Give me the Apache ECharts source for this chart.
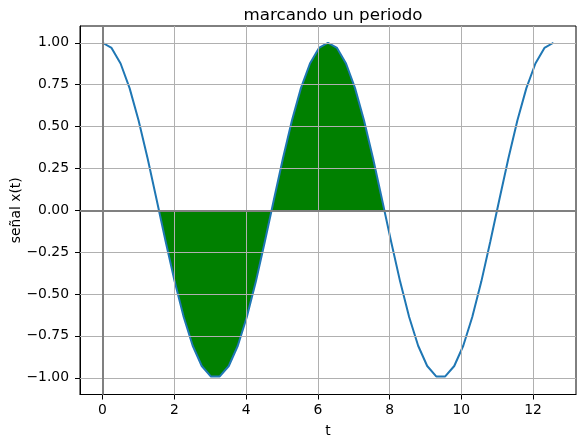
<!DOCTYPE html>
<html>
<head>
<meta charset="utf-8">
<script src="https://cdn.jsdelivr.net/npm/echarts@6/dist/echarts.min.js"></script>
<style>
  html, body { margin: 0; padding: 0; background: #fff; }
  #chart { width: 581px; height: 439px; }
</style>
</head>
<body>
<div id="chart"></div>
<script>
// samples of t (0 .. 4pi, 51 points)
const tValues = [
  0.000, 0.251, 0.503, 0.754, 1.005, 1.257, 1.508, 1.759, 2.011, 2.262,
  2.513, 2.765, 3.016, 3.267, 3.519, 3.770, 4.021, 4.273, 4.524, 4.775,
  5.027, 5.278, 5.529, 5.781, 6.032, 6.283, 6.535, 6.786, 7.037, 7.288,
  7.540, 7.791, 8.042, 8.294, 8.545, 8.796, 9.048, 9.299, 9.550, 9.802,
  10.053, 10.304, 10.556, 10.807, 11.058, 11.310, 11.561, 11.812, 12.064, 12.315,
  12.566
];
const xValues = [
  1.000, 0.969, 0.876, 0.729, 0.536, 0.309, 0.063, -0.187, -0.426, -0.637,
  -0.809, -0.930, -0.992, -0.992, -0.930, -0.809, -0.637, -0.426, -0.187, 0.063,
  0.309, 0.536, 0.729, 0.876, 0.969, 1.000, 0.969, 0.876, 0.729, 0.536,
  0.309, 0.063, -0.187, -0.426, -0.637, -0.809, -0.930, -0.992, -0.992, -0.930,
  -0.809, -0.637, -0.426, -0.187, 0.063, 0.309, 0.536, 0.729, 0.876, 0.969,
  1.000
];
// shaded period: from pi/2 to 5pi/2
const periodStart = 1.571;
const periodEnd = 7.854;

const xTicks = [0, 2, 4, 6, 8, 10, 12];
const yTicks = [-1.0, -0.75, -0.5, -0.25, 0, 0.25, 0.5, 0.75, 1.0];

const lineData = tValues.map((t, i) => [t, xValues[i]]);
const fillData = [[periodStart, 0]]
  .concat(lineData.filter(p => p[0] > periodStart && p[0] < periodEnd))
  .concat([[periodEnd, 0]]);

const chart = echarts.init(document.getElementById('chart'));
const font = 'DejaVu Sans';

const option = {
  animation: false,
  title: {
    text: 'marcando un periodo',
    left: 328,
    textAlign: 'center',
    top: 2,
    textStyle: { fontFamily: font, fontSize: 16.7, fontWeight: 'normal', color: '#000' }
  },
  grid: {
    left: 80, top: 26, width: 496, height: 368.5,
    outerBoundsMode: 'none',
    containLabel: false,
    show: true, borderColor: '#000', borderWidth: 1
  },
  xAxis: {
    type: 'value',
    min: -0.628,
    max: 13.195,
    name: 't',
    nameLocation: 'middle',
    nameGap: 30,
    nameMoveOverlap: false,
    nameTextStyle: { fontFamily: font, fontSize: 13.9, color: '#000' },
    axisLine: { onZero: false, lineStyle: { color: '#000', width: 1 } },
    axisTick: { show: true, length: 5, customValues: xTicks, lineStyle: { color: '#000' } },
    axisLabel: { customValues: xTicks, fontFamily: font, fontSize: 13.9, color: '#000', margin: 9 },
    splitLine: { show: false }
  },
  yAxis: {
    type: 'value',
    min: -1.1,
    max: 1.1,
    name: 'señal x(t)',
    nameLocation: 'middle',
    nameGap: 57,
    nameMoveOverlap: false,
    nameRotate: 90,
    nameTextStyle: { fontFamily: font, fontSize: 13.9, color: '#000' },
    axisLine: { show: true, onZero: false, lineStyle: { color: '#000', width: 1 } },
    axisTick: { show: true, length: 5, customValues: yTicks, lineStyle: { color: '#000' } },
    axisLabel: {
      customValues: yTicks, fontFamily: font, fontSize: 13.9, color: '#000', margin: 11,
      formatter: v => v.toFixed(2).replace('-', '\u2212')
    },
    splitLine: { show: false }
  },
  series: [
    {
      type: 'line',
      data: [],
      silent: true,
      markLine: {
        symbol: 'none',
        silent: true,
        label: { show: false },
        lineStyle: { color: '#b0b0b0', width: 1, type: 'solid' },
        data: xTicks.map(v => ({ xAxis: v })).concat(yTicks.map(v => ({ yAxis: v })))
      },
      z: 1
    },
    {
      type: 'line',
      data: fillData,
      showSymbol: false,
      lineStyle: { width: 0 },
      areaStyle: { color: '#008000', opacity: 1 },
      z: 2
    },
    {
      type: 'line',
      data: [],
      silent: true,
      markLine: {
        symbol: 'none',
        silent: true,
        label: { show: false },
        lineStyle: { color: '#808080', width: 2, type: 'solid' },
        data: [{ xAxis: 0 }, { yAxis: 0 }]
      },
      z: 3
    },
    {
      type: 'line',
      data: lineData,
      showSymbol: false,
      lineStyle: { color: '#1f77b4', width: 2 },
      z: 4
    }
  ]
};

chart.setOption(option);
</script>
</body>
</html>
